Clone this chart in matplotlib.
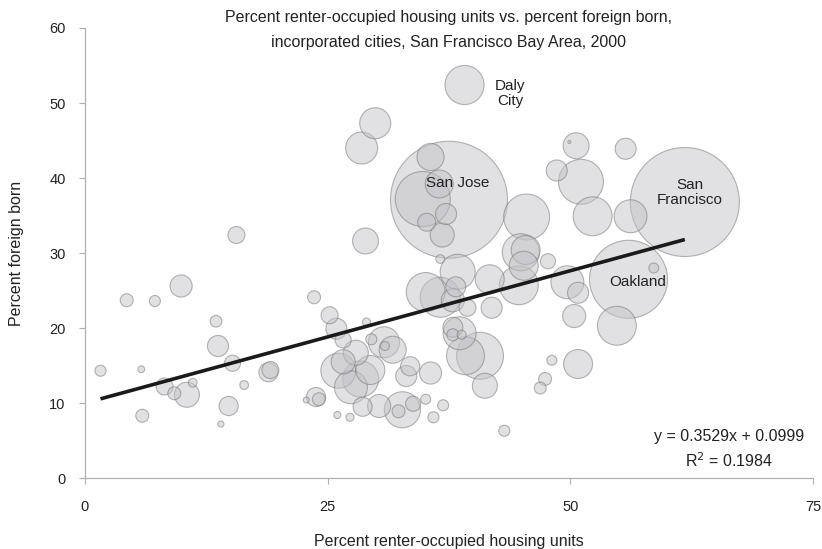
import numpy as np
import matplotlib
matplotlib.use("Agg")
import matplotlib.pyplot as plt

plt.rcParams['font.family'] = ['Liberation Sans', 'DejaVu Sans']

# percent renter-occupied, percent foreign born, population (thousands)
renter = [
    15.6, 9.9, 4.3, 7.2, 13.5, 13.7, 15.2, 1.6, 5.8, 18.9, 19.1, 8.2, 9.2, 10.5, 11.1, 16.4, 14.8, 5.9, 14.0,
    29.9, 28.5, 28.9, 23.6, 39.1, 37.5, 35.6, 34.8, 36.5, 37.2, 35.2, 36.8, 36.6,
    45.5, 48.6, 50.6, 49.9, 51.1, 55.7, 52.3, 56.2, 61.8, 56.0, 58.6, 54.8, 49.7, 50.8, 50.4, 50.8, 48.1, 47.4, 46.9,
    44.9, 45.4, 45.2, 47.7, 44.7, 41.7, 38.4, 41.9,
    35.1, 36.6, 38.2, 37.9, 39.4, 37.9, 38.6, 37.9, 38.8, 39.2, 40.7, 41.2, 35.6, 35.1, 36.9, 35.9, 43.2,
    25.2, 25.9, 26.6, 29.0, 30.8, 29.5, 30.9, 31.7, 27.9, 26.6, 26.1, 29.4, 28.4, 27.4, 33.5, 33.1,
    23.8, 24.1, 22.8, 28.6, 30.3, 32.7, 32.3, 33.8, 26.0, 27.3,
]
foreign = [
    32.4, 25.6, 23.7, 23.6, 20.9, 17.6, 15.3, 14.3, 14.5, 14.1, 14.4, 12.2, 11.3, 11.1, 12.7, 12.4, 9.6, 8.3, 7.2,
    47.3, 44.0, 31.6, 24.1, 52.4, 37.1, 42.8, 37.2, 39.2, 35.2, 34.1, 32.4, 29.2,
    34.8, 41.0, 44.3, 44.8, 39.5, 43.9, 34.9, 34.9, 36.8, 26.5, 28.0, 20.3, 26.1, 24.7, 21.6, 15.2, 15.7, 13.2, 12.0,
    30.1, 30.4, 28.3, 28.9, 25.7, 26.5, 27.5, 22.7,
    24.8, 24.1, 25.5, 23.7, 22.7, 20.1, 19.3, 19.1, 19.1, 16.3, 16.3, 12.3, 14.0, 10.5, 9.7, 8.1, 6.3,
    21.7, 19.9, 18.4, 20.8, 18.1, 18.5, 17.6, 17.1, 16.7, 15.5, 14.3, 14.4, 13.2, 12.1, 14.9, 13.6,
    10.8, 10.5, 10.4, 9.5, 9.6, 9.1, 8.9, 9.9, 8.4, 8.1,
]
population = [
    19, 32, 11, 8, 9, 29, 17, 8, 3, 24, 19, 19, 11, 41, 5, 5, 24, 11, 2.4,
    63, 67, 44, 11, 100, 895, 48, 198, 51, 29, 21, 38, 5,
    138, 29, 44, 0.6, 132, 29, 99, 71, 777, 398, 6.5, 99, 71, 29, 35, 55, 6.5, 11, 9.4,
    90, 55, 55, 15, 99, 55, 80, 29,
    99, 105, 26, 35, 19, 26, 71, 9.4, 5.3, 94, 144, 41, 32, 6.5, 8, 8, 8,
    19, 29, 17, 4.2, 63, 8, 5.3, 48, 41, 38, 80, 55, 85, 71, 24, 29,
    24, 11, 2.4, 24, 35, 85, 11, 15, 3.2, 4.2,
]

city_labels = ["Daly\nCity", "San Jose", "San\nFrancisco", "Oakland"]
label_x = [43.8, 38.4, 62.3, 56.9]
label_y = [51.3, 39.3, 38.1, 26.2]

slope, intercept = 0.3529, 0.0999
r_squared = 0.1984

x = np.array(renter)
y = np.array(foreign)
pop = np.array(population)
order = np.argsort(-pop)

fig = plt.figure(figsize=(8.22, 5.49), dpi=100)
ax = fig.add_axes([0.1034, 0.1293, 0.8856, 0.8197])

# bubble area proportional to population (San Jose ~117 px across)
sizes = (0.72 * 117) ** 2 * pop / 895
ax.scatter(x[order], y[order], s=sizes[order], facecolor='#c4c4c8', alpha=0.5,
           edgecolor='#707070', linewidth=0.8, zorder=2)

# linear trendline (fit on fractions, shown in percent)
xl = np.array([x.min(), x.max()])
ax.plot(xl, (slope * xl / 100 + intercept) * 100, color='#1a1a1a', lw=2.6, zorder=3,
        solid_capstyle='butt')

for lab, lx, ly in zip(city_labels, label_x, label_y):
    ax.text(lx, ly, lab, ha='center', va='center', fontsize=11, color='#222222',
            linespacing=1.05, zorder=4)

ax.text(66.4, 5.5, f"y = {slope}x + {intercept}", ha='center', va='center', fontsize=11.5, color='#222222')
ax.text(66.4, 2.3, f"R$^2$ = {r_squared}", ha='center', va='center', fontsize=11.5, color='#222222')

ax.set_xlim(0, 75)
ax.set_ylim(0, 60)
ax.set_xticks([0, 25, 50, 75])
ax.set_yticks(range(0, 61, 10))
for s in ['top', 'right']:
    ax.spines[s].set_visible(False)
for s in ['left', 'bottom']:
    ax.spines[s].set_color('#b0b0b0')
    ax.spines[s].set_linewidth(0.9)
ax.tick_params(axis='both', direction='out', length=4, color='#b0b0b0', labelsize=10.5,
               labelcolor='#222222')
ax.tick_params(axis='x', pad=12)
ax.tick_params(axis='y', pad=10)

ax.set_xlabel('Percent renter-occupied housing units', fontsize=11.5, color='#222222', labelpad=14)
ax.set_ylabel('Percent foreign born', fontsize=11.5, color='#222222', labelpad=18)

fig.text(0.546, 0.969, 'Percent renter-occupied housing units vs. percent foreign born,',
         ha='center', va='center', fontsize=11.5, color='#222222')
fig.text(0.546, 0.923, 'incorporated cities, San Francisco Bay Area, 2000',
         ha='center', va='center', fontsize=11.5, color='#222222')

fig.savefig('out.png', dpi=100)
